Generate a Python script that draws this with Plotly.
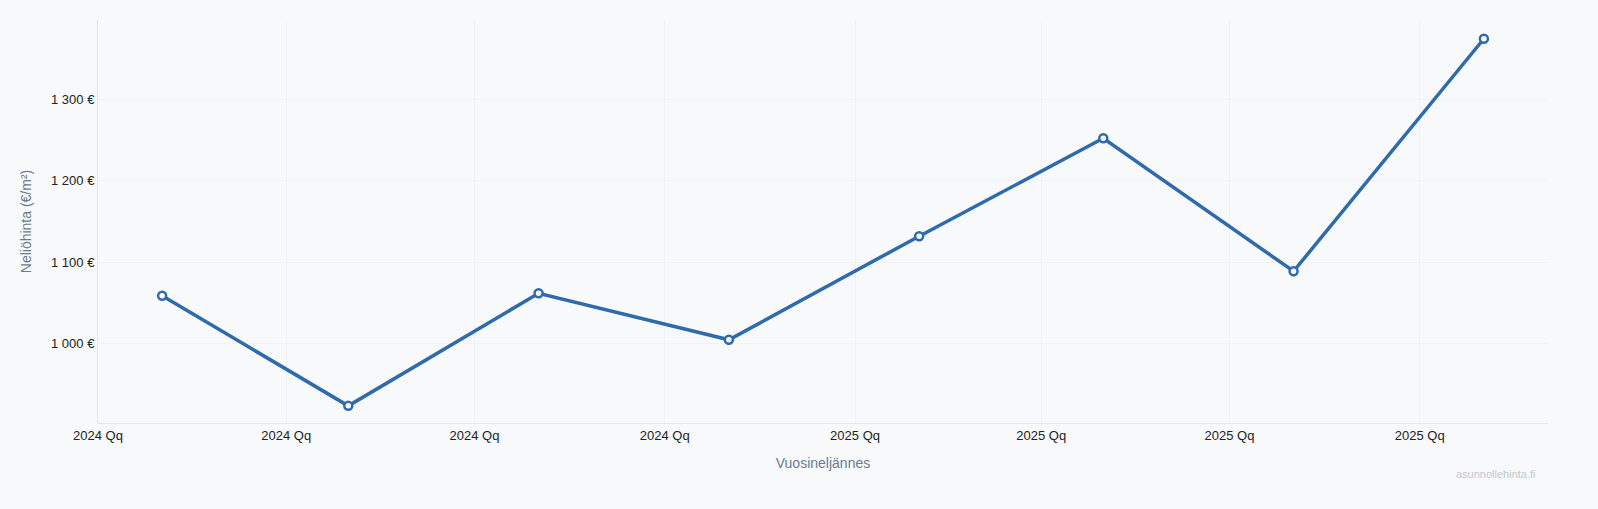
import plotly.graph_objects as go

# quarterly square-metre prices (EUR/m2)
quarters = ['2024-02-01', '2024-05-01', '2024-08-01', '2024-11-01',
            '2025-02-01', '2025-05-01', '2025-08-01', '2025-11-01']
prices = [1059, 924, 1062, 1005, 1132, 1252, 1089, 1374]

line_color = '#2f6aaa'
bg = '#f8f9fb'

fig = go.Figure(go.Scatter(
    x = quarters,
    y = prices,
    mode = 'lines+markers',
    line = dict(color = line_color, width = 3.5),
    marker = dict(size = 8, color = 'white',
        line = dict(color = line_color, width = 2.5)),
    showlegend = False,
))

fig.update_layout(
    width = 1598, height = 509,
    paper_bgcolor = bg, plot_bgcolor = bg,
    font = dict(family = 'Liberation Sans, Arial, sans-serif', size = 13, color = '#222'),
    margin = dict(l = 98, r = 50, t = 20, b = 86),
    separators = ', ',
)
# the source chart shows the literal "Qq" in its tick labels
fig.update_xaxes(
    type = 'date',
    tickformat = '%Y Qq',
    dtick = 'M3',
    tick0 = '2024-01-01',
    range = ['2024-01-01', '2025-12-02'],
    showgrid = True, gridcolor = '#f0f2f5',
    showline = True, linecolor = '#e3e6ea', linewidth = 1,
    zeroline = False,
    ticks = '',
    title = dict(text = 'Vuosineljännes', font = dict(size = 14, color = '#6b7a8d'), standoff = 16),
)
fig.update_yaxes(
    tickformat = ',d',
    ticksuffix = ' €',
    range = [903, 1397],
    dtick = 100,
    showgrid = True, gridcolor = '#f0f2f5',
    showline = True, linecolor = '#e3e6ea', linewidth = 1,
    zeroline = False,
    title = dict(text = 'Neliöhinta (€/m²)', font = dict(size = 14, color = '#6b7a8d'), standoff = 16),
)
fig.add_annotation(
    text = 'asunnollehinta.fi', xref = 'paper', yref = 'paper',
    x = 0.993, y = -0.107, xanchor = 'right', yanchor = 'top',
    showarrow = False, font = dict(size = 11, color = '#c3c8cf'),
)

fig.write_html("out.html", config = {'displayModeBar': False},
    post_script = "document.body.style.margin='0';document.body.style.background='%s';" % bg)
